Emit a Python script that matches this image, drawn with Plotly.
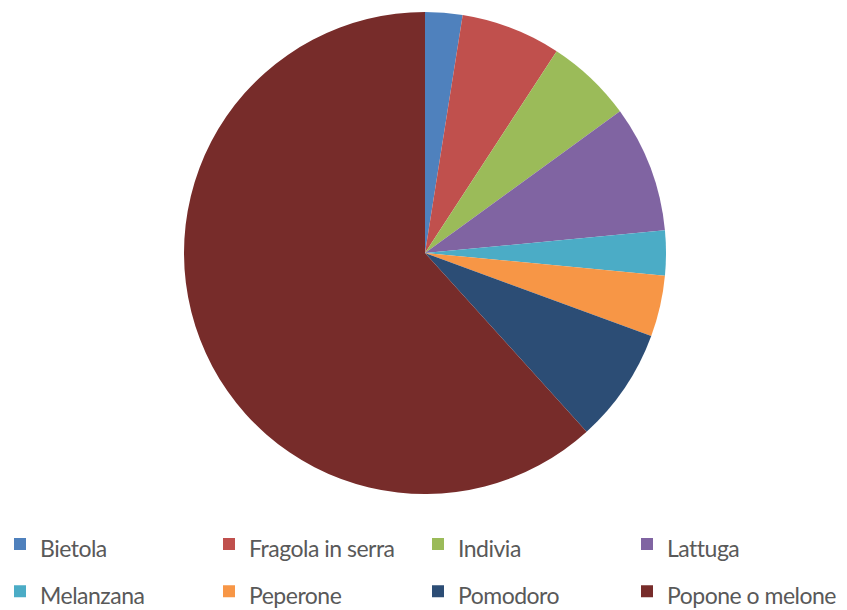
import plotly.graph_objects as go

labels = ["Bietola", "Fragola in serra", "Indivia", "Lattuga",
          "Melanzana", "Peperone", "Pomodoro", "Popone o melone"]
values = [2.5, 6.7, 5.8, 8.5, 3.0, 4.1, 7.7, 61.7]
colors = ["#4F81BD", "#C0504D", "#9BBB59", "#8064A2",
          "#4BACC6", "#F79646", "#2C4D75", "#772C2A"]

W, H = 847, 610
cx, cy, r = 425, 253, 241

disp = [f"<span style='font-size:23px;letter-spacing:-0.5px'>{l}</span>" for l in labels]

fig = go.Figure(go.Pie(
    labels=disp, values=values, sort=False, direction="clockwise",
    rotation=0, marker=dict(colors=colors, line=dict(width=0)),
    textinfo="none", customdata=labels,
    hovertemplate="%{customdata}: %{percent}<extra></extra>",
    domain=dict(x=[(cx - r) / W, (cx + r) / W],
                y=[1 - (cy + r) / H, 1 - (cy - r) / H]),
))

fig.update_layout(
    width=W, height=H,
    margin=dict(l=0, r=0, t=0, b=0, autoexpand=False),
    paper_bgcolor="white", plot_bgcolor="white",
    showlegend=True,
    legend=dict(orientation="h", x=0, xanchor="left",
                y=0.16 - 3 / H, yanchor="top",
                entrywidth=164, entrywidthmode="pixels",
                bgcolor="rgba(255,255,255,0)",
                font=dict(family="Lato, Carlito, sans-serif", size=34, color="#595959"),
                traceorder="normal"),
)

fig.write_html("out.html", config={"displayModeBar": False},
               post_script="document.body.style.margin='0';document.body.style.overflow='hidden';")
